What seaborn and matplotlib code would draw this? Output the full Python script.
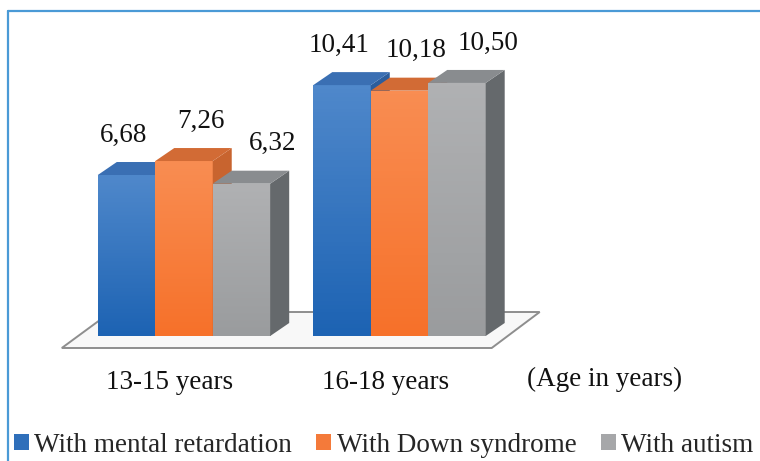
import numpy as np
import pandas as pd
import matplotlib
matplotlib.use("Agg")
import matplotlib.pyplot as plt
from matplotlib.colors import LinearSegmentedColormap
from matplotlib.patches import Polygon, Patch
from matplotlib.lines import Line2D
import seaborn as sns

# ---------------- data ----------------
age_groups = ["13-15 years", "16-18 years"]
series_names = ["With mental retardation", "With Down syndrome", "With autism"]
mental_retardation = [6.68, 10.41]
down_syndrome = [7.26, 10.18]
autism = [6.32, 10.50]
axis_title = "(Age in years)"

# ---------------- style ----------------
front_colors = ["#2a6fbd", "#f77c3a", "#a4a5a7"]
grad_top = ["#4f88cb", "#f98d52", "#b0b1b3"]
grad_bot = ["#1d63b3", "#f6712a", "#9a9c9e"]
side_colors = ["#2c5d9c", "#c8642f", "#65696c"]
top_colors = ["#3a6fb3", "#d26b35", "#898c8f"]
legend_colors = ["#2f6fba", "#f47a3a", "#a6a7a9"]

sns.set_theme(style="white")
plt.rcParams["font.family"] = ["Liberation Serif", "DejaVu Serif"]
FS = 19.5

W, H = 760, 461
fig = plt.figure(figsize=(W / 100, H / 100), dpi=100)
fig.patch.set_facecolor("white")
ax = fig.add_axes([0, 0, 1, 1])

# pixel layout helpers (layout only)
X0, XS = 184.0, 215.5     # px of group 0 centre, px per category unit
Y0, YS = 336.0, 24.1      # px (from top) of value 0, px per value unit
def xpx(d):  # pixel offset -> data offset
    return d / XS
def ypx(d):
    return d / YS

df = pd.DataFrame({
    "age": np.repeat(age_groups, 3) if False else
           [a for a in age_groups for _ in series_names],
    "group": [s for _ in age_groups for s in series_names],
    "value": [v for i in range(len(age_groups))
              for v in (mental_retardation[i], down_syndrome[i], autism[i])],
})

sns.barplot(data=df, x="age", y="value", hue="group", order=age_groups,
            hue_order=series_names, palette=front_colors, width=0.8, gap=0,
            saturation=1, legend=False, ax=ax, linewidth=0, errorbar=None)

xlim = (-X0 / XS, (W - X0) / XS)
ylim = (-(H - Y0) / YS, Y0 / YS)

dx, dy = xpx(19), ypx(13)

# floor
bars = list(ax.patches)
left = min(b.get_x() for b in bars)
right = max(b.get_x() + b.get_width() for b in bars)
fl_front = -ypx(12)
fl_back = ypx(24)
floor = Polygon([[left - xpx(36), fl_front], [right + xpx(6), fl_front],
                 [right + xpx(54), fl_back], [left + xpx(13), fl_back]],
                closed=True, facecolor="#f8f8f8", edgecolor="#8e8e8e",
                linewidth=1.4, zorder=1)
ax.add_patch(floor)

# sort bars left-to-right for proper overlap
hue_of = {}
n_groups = len(age_groups)
for i, b in enumerate(bars):
    hue_of[id(b)] = i // n_groups
order = sorted(bars, key=lambda b: b.get_x())
label_dx = [-3, 17, 31]
for rank, b in enumerate(order):
    h = hue_of[id(b)]
    z = 2 + rank * 0.1
    x0, w, ht = b.get_x(), b.get_width(), b.get_height()
    b.set_zorder(z)
    # gradient on the front face
    cmap = LinearSegmentedColormap.from_list("g", [grad_bot[h], grad_top[h]])
    grad = np.linspace(0, 1, 64).reshape(-1, 1)
    im = ax.imshow(grad, cmap=cmap, origin="lower", aspect="auto",
                   extent=(x0, x0 + w, 0, ht), zorder=z + 0.01)
    im.set_clip_path(b)
    # side face
    side = Polygon([[x0 + w, 0], [x0 + w + dx, dy], [x0 + w + dx, ht + dy],
                    [x0 + w, ht]], closed=True, facecolor=side_colors[h],
                   edgecolor="none", zorder=z + 0.02)
    ax.add_patch(side)
    top = Polygon([[x0, ht], [x0 + dx, ht + dy], [x0 + w + dx, ht + dy],
                   [x0 + w, ht]], closed=True, facecolor=top_colors[h],
                  edgecolor="none", zorder=z + 0.02)
    ax.add_patch(top)
    ax.text(x0 + w / 2 + xpx(label_dx[h]), ht + ypx(40),
            f"{ht:.2f}".replace(".", ","), ha="center", va="center",
            fontsize=FS, color="#111111", zorder=10)

# category labels
for i, cat in enumerate(age_groups):
    ax.text(i - xpx(14), -ypx(46), cat, ha="center", va="center",
            fontsize=FS, color="#111111")
ax.text((605 - X0) / XS, -ypx(43), axis_title, ha="center", va="center",
        fontsize=FS, color="#111111")

ax.set_xlim(*xlim)
ax.set_ylim(*ylim)
ax.set_axis_off()

# legend
handles = [Patch(facecolor=c, edgecolor="none") for c in legend_colors]
fig.legend(handles, series_names, loc="center left", ncol=3,
           bbox_to_anchor=(14 / W, 1 - 445 / H), frameon=False,
           fontsize=FS, handlelength=0.55, handleheight=0.55,
           handletextpad=0.2, columnspacing=0.9, borderpad=0, borderaxespad=0)

# frame lines (blue border at top and left)
bc = "#4a9ad6"
fig.add_artist(Line2D([8 / W, 8 / W], [0, 1 - 11 / H], transform=fig.transFigure,
                      color=bc, linewidth=1.6))
fig.add_artist(Line2D([8 / W, 1], [1 - 11 / H, 1 - 11 / H],
                      transform=fig.transFigure, color=bc, linewidth=1.6))

fig.savefig("out.png", dpi=100)
